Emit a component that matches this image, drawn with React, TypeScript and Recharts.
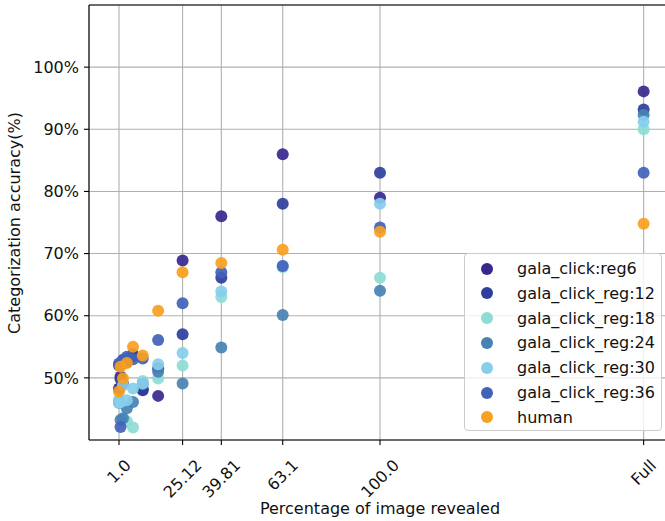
import { ScatterChart, Scatter, XAxis, YAxis, CartesianGrid, ReferenceLine } from 'recharts';

// percentage of image revealed (Full drawn at 200)
const xValues = [1, 1.58, 2.51, 3.98, 6.31, 10, 15.85, 25.12, 39.81, 63.1, 100, 200];
const xTicks = [1, 25.12, 39.81, 63.1, 100, 200];
const xTickLabels = ['1.0', '25.12', '39.81', '63.1', '100.0', 'Full'];
const yTicks = [50, 60, 70, 80, 90, 100];

const reg6 = [48.3, 50.2, 49.0, 52.5, 53.8, 48.0, 47.1, 68.9, 76.0, 86.0, 79.0, 96.1];
const reg12 = [52.0, 49.8, 52.8, 53.0, 53.5, 48.2, 51.5, 57.0, 66.1, 78.0, 83.0, 93.2];
const reg18 = [46.5, 46.0, 43.2, 43.0, 42.0, 49.5, 49.9, 52.0, 63.0, 67.8, 66.1, 90.0];
const reg24 = [46.0, 43.2, 43.5, 45.1, 46.1, 49.0, 51.0, 49.1, 54.9, 60.1, 64.0, 92.3];
const reg30 = [46.0, 46.1, 48.8, 46.4, 48.3, 49.1, 52.2, 54.0, 63.9, 68.0, 78.0, 91.2];
const reg36 = [52.3, 42.1, 52.9, 53.4, 53.0, 53.1, 56.1, 62.0, 67.0, 68.0, 74.2, 83.0];
const human = [47.8, 51.8, 49.9, 52.4, 55.0, 53.6, 60.8, 67.0, 68.5, 70.6, 73.5, 74.8];

const series = [
  { name: 'gala_click:reg6', values: reg6, color: '#36288f' },
  { name: 'gala_click_reg:12', values: reg12, color: '#2e3f9d' },
  { name: 'gala_click_reg:18', values: reg18, color: '#8ddcd5' },
  { name: 'gala_click_reg:24', values: reg24, color: '#4682b4' },
  { name: 'gala_click_reg:30', values: reg30, color: '#87ceeb' },
  { name: 'gala_click_reg:36', values: reg36, color: '#4262b8' },
  { name: 'human', values: human, color: '#f8a020' },
];

const FONT = '"DejaVu Sans", sans-serif';
const charW: Record<string, number> = { '.': 0.318, F: 0.575, u: 0.634, l: 0.278 };
const textWidth = (s: string, size: number) =>
  s.split('').reduce((a, c) => a + (charW[c] ?? 0.636), 0) * size;

const XTick = (props: any) => {
  const { x, y, payload } = props;
  const label = xTickLabels[xTicks.indexOf(payload.value)] ?? String(payload.value);
  const box = (textWidth(label, 16) + 18) / Math.SQRT2;
  const cy = y + 9 + box / 2;
  return (
    <text x={x} y={cy} textAnchor="middle" dominantBaseline="central" fontSize={16}
      fontFamily={FONT} fill="#111" transform={`rotate(-45 ${x} ${cy})`}>
      {label}
    </text>
  );
};

const dot = (color: string) => (p: any) =>
  <circle cx={p.cx} cy={p.cy} r={6} fill={color} fillOpacity={0.92} />;

export default function App() {
  return (
    <div style={{ position: 'absolute', left: 0, top: 0, width: 665, height: 521, overflow: 'hidden', background: '#fff', fontFamily: FONT }}>
      <ScatterChart width={680} height={521} margin={{ top: 5, right: 10, bottom: 0, left: 0 }}>
        <CartesianGrid stroke="#b0b0b0" strokeWidth={1.1} />
        <XAxis type="number" dataKey="x" domain={[-10.38, 210]} ticks={xTicks} interval={0} allowDataOverflow
          height={81} tick={<XTick />} tickSize={5} stroke="#000" strokeWidth={1.1}
          label={{ content: () => (
            <text x={380} y={508} textAnchor="middle" dominantBaseline="central" fontSize={16} fontFamily={FONT} fill="#111">
              Percentage of image revealed
            </text>
          ) }} />
        <YAxis type="number" dataKey="y" domain={[40, 110]} ticks={yTicks} interval={0} allowDataOverflow width={89}
          tickFormatter={(v) => `${v}%`} tickSize={5} tickMargin={5} stroke="#000" strokeWidth={1.1}
          tick={{ fontSize: 16, fill: '#111', fontFamily: FONT }}
          label={{ content: () => (
            <text x={14} y={223} textAnchor="middle" dominantBaseline="central" fontSize={16} fontFamily={FONT} fill="#111"
              transform="rotate(-90 14 223)">
              Categorization accuracy(%)
            </text>
          ) }} />
        <ReferenceLine y={110} stroke="#000" strokeWidth={1.1} />
        {series.map((s) => (
          <Scatter key={s.name} name={s.name} data={xValues.map((x, i) => ({ x, y: s.values[i] }))}
            shape={dot(s.color)} isAnimationActive={false} />
        ))}
      </ScatterChart>
      <div style={{ position: 'absolute', left: 464, top: 253, width: 198, height: 178, boxSizing: 'border-box',
        border: '1px solid #cccccc', borderRadius: 4, background: 'rgba(255,255,255,0.8)' }}>
        {series.map((s, i) => (
          <div key={s.name} style={{ position: 'absolute', left: 0, top: 2 + i * 24.8, height: 25, display: 'flex', alignItems: 'center' }}>
            <span style={{ display: 'inline-block', width: 12, height: 12, borderRadius: 6, background: s.color, marginLeft: 16 }} />
            <span style={{ marginLeft: 24, fontSize: 16, color: '#111', whiteSpace: 'nowrap' }}>{s.name}</span>
          </div>
        ))}
      </div>
    </div>
  );
}
